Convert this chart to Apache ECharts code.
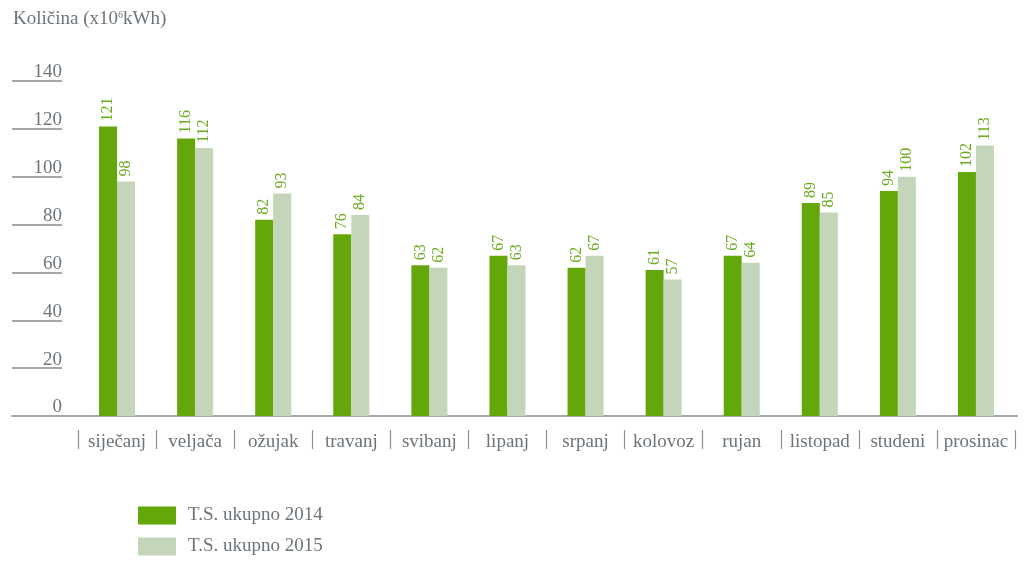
<!DOCTYPE html>
<html>
	<head>
		<meta charset="utf-8" />
		<title></title>
		<script src="https://cdn.jsdelivr.net/npm/echarts@6/dist/echarts.min.js"></script>
		<style>
			body { margin: 0; background: #fff; }
		</style>
	</head>
	<body>
		<div id="demo1" style="width: 1029px;height: 561px;"></div>
		<script type="text/javascript">
			var months = ['siječanj', 'veljača', 'ožujak', 'travanj', 'svibanj', 'lipanj', 'srpanj', 'kolovoz', 'rujan', 'listopad', 'studeni', 'prosinac'];
			var ukupno2014 = [121, 116, 82, 76, 63, 67, 62, 61, 67, 89, 94, 102];
			var ukupno2015 = [98, 112, 93, 84, 62, 63, 67, 57, 64, 85, 100, 113];
			var yTicks = [0, 20, 40, 60, 80, 100, 120, 140];
			var seriesNames = ['T.S. ukupno 2014', 'T.S. ukupno 2015'];

			var serif = 'Liberation Serif';
			var grey = '#6d7479';
			var lineGrey = '#a3a8ac';

			var myChart = echarts.init(document.getElementById('demo1'));

			// oznake vrijednosti okrenute okomito
			var valueLabel = {
				show: true,
				position: 'top',
				rotate: 90,
				align: 'left',
				verticalAlign: 'middle',
				distance: 5,
				color: '#6aab1f',
				fontFamily: serif,
				fontSize: 16
			};

			function legendItem(name, top) {
				return {
					left: 138,
					top: top,
					padding: 0,
					icon: 'rect',
					itemWidth: 38,
					itemHeight: 18,
					data: [name],
					textStyle: { fontFamily: serif, fontSize: 19, color: grey, padding: [2, 0, 0, 7] }
				};
			}

			myChart.setOption({
				animation: false,
				title: {
					text: '{a|Količina (x10}{b|6}{a|kWh)}',
					left: 13,
					top: 10,
					padding: 0,
					textStyle: {
						fontWeight: 'normal',
						rich: {
							a: { fontFamily: serif, fontSize: 19, color: grey, fontWeight: 'normal' },
							b: { fontFamily: serif, fontSize: 10, color: grey, fontWeight: 'normal', verticalAlign: 'top', padding: [0, 0, 8, 0] }
						}
					}
				},
				legend: [
					legendItem(seriesNames[0], 506),
					legendItem(seriesNames[1], 537)
				],
				grid: [
					{ left: 78, right: 14, top: 81, bottom: 145 },
					{ left: 12, right: 12, top: 81, bottom: 145 }
				],
				xAxis: [
					{
						type: 'category',
						gridIndex: 0,
						data: months,
						axisLine: { lineStyle: { color: lineGrey, width: 2 } },
						axisTick: { show: false },
						axisLabel: { interval: 0, margin: 17, fontFamily: serif, fontSize: 19, color: grey }
					},
					{
						// razdjelnici između mjeseci
						type: 'category',
						gridIndex: 0,
						position: 'bottom',
						offset: 14,
						data: months,
						axisLine: { show: false },
						axisTick: { show: true, interval: 0, length: 19, lineStyle: { color: '#8d9399', width: 1.2 } },
						axisLabel: { show: false }
					},
					{
						type: 'category',
						gridIndex: 1,
						data: [''],
						axisLine: { lineStyle: { color: lineGrey, width: 2 } },
						axisTick: { show: false },
						axisLabel: { show: false }
					}
				],
				yAxis: [
					{
						type: 'value',
						gridIndex: 0,
						min: yTicks[0],
						max: yTicks[yTicks.length - 1],
						interval: 20,
						offset: 16,
						axisLine: { show: false },
						axisTick: { show: true, length: 50, lineStyle: { color: lineGrey, width: 2 } },
						splitLine: { show: false },
						axisLabel: {
							margin: 0,
							align: 'right',
							verticalAlign: 'bottom',
							lineHeight: 13,
							padding: [0, 0, 2, 0],
							fontFamily: serif,
							fontSize: 19,
							color: grey
						}
					},
					{
						type: 'value',
						gridIndex: 1,
						show: false
					}
				],
				series: [
					{
						name: seriesNames[0],
						type: 'bar',
						xAxisIndex: 0,
						yAxisIndex: 0,
						barWidth: 18,
						barGap: '0%',
						itemStyle: { color: '#64a70b' },
						label: valueLabel,
						data: ukupno2014
					},
					{
						name: seriesNames[1],
						type: 'bar',
						xAxisIndex: 0,
						yAxisIndex: 0,
						barWidth: 18,
						barGap: '0%',
						itemStyle: { color: '#c4d6b9' },
						label: valueLabel,
						data: ukupno2015
					}
				]
			});
		</script>
	</body>
</html>
